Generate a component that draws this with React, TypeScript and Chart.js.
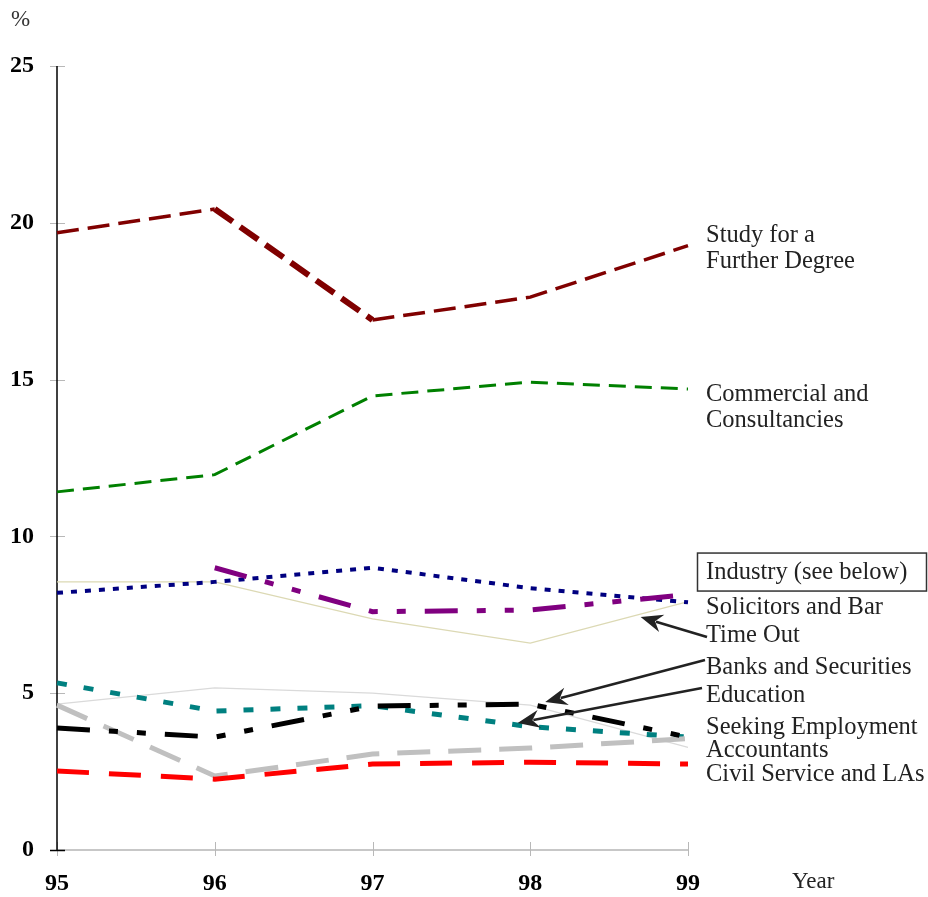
import React, { useEffect, useRef } from 'react';
import { Chart, registerables } from 'chart.js';

Chart.register(...registerables);

// ---- data ----
const categories = ['95', '96', '97', '98', '99'];
const yTicks = [0, 5, 10, 15, 20, 25];

const studyFurtherDegree = [19.68, 20.44, 16.9, 17.63, 19.27];
const commercialConsultancies = [11.42, 11.97, 14.48, 14.92, 14.7];
const industry = [8.2, 8.55, 9.0, 8.35, 7.9];
const solicitorsBar = [null, 9.0, 7.6, 7.65, 8.15];
const timeOut = [8.55, 8.55, 7.37, 6.6, 7.92];
const banksSecurities = [3.89, 3.6, 4.59, 4.65, 3.6];
const education = [5.33, 4.43, 4.6, 3.93, 3.6];
const seekingEmployment = [4.65, 5.17, 5.0, 4.62, 3.27];
const accountants = [4.62, 2.36, 3.06, 3.25, 3.55];
const civilService = [2.52, 2.26, 2.74, 2.8, 2.74];

// annotation texts (placed at value heights on the right)
const labelTexts = [
  'Study for a', 'Further Degree', 'Commercial and', 'Consultancies',
  'Industry (see below)', 'Solicitors and Bar', 'Time Out', 'Banks and Securities',
  'Education', 'Seeking Employment', 'Accountants', 'Civil Service and LAs',
];
const labelValues = [19.39, 18.56, 14.32, 13.49, 8.64, 7.53, 6.63, 5.61, 4.72, 3.7, 2.97, 2.2];
const boxedLabel = 'Industry (see below)';

const arrowLabels = ['Time Out', 'Banks and Securities', 'Education'];
const arrowTipIndex = [3.7, 3.095, 2.92];
const arrowTipValue = [7.43, 4.72, 4.05];

const SERIF = '"Liberation Serif", "DejaVu Serif", serif';

const annotationPlugin = {
  id: 'annotations',
  beforeDatasetsDraw(chart: any) {
    const { ctx, chartArea, scales } = chart;
    const x = scales.x;
    const y = scales.y;
    ctx.save();
    // x axis line
    ctx.strokeStyle = '#b4b4b4';
    ctx.lineWidth = 1.5;
    ctx.beginPath();
    ctx.moveTo(chartArea.left, chartArea.bottom);
    ctx.lineTo(chartArea.right, chartArea.bottom);
    ctx.stroke();
    // x ticks
    ctx.lineWidth = 1;
    ctx.strokeStyle = '#b8b8b8';
    categories.forEach((_, i) => {
      const px = Math.round(x.getPixelForValue(i)) + 0.5;
      ctx.beginPath();
      ctx.moveTo(px, chartArea.bottom - 8);
      ctx.lineTo(px, chartArea.bottom + 6);
      ctx.stroke();
    });
    // y ticks
    yTicks.forEach((v) => {
      const py = Math.round(y.getPixelForValue(v)) + 0.5;
      ctx.strokeStyle = v === 0 ? '#000' : '#b8b8b8';
      ctx.lineWidth = v === 0 ? 1.5 : 1;
      ctx.beginPath();
      ctx.moveTo(chartArea.left - 7, py);
      ctx.lineTo(chartArea.left + 8, py);
      ctx.stroke();
    });
    // y axis line
    ctx.strokeStyle = '#000';
    ctx.lineWidth = 1.5;
    ctx.beginPath();
    ctx.moveTo(chartArea.left, chartArea.top);
    ctx.lineTo(chartArea.left, chartArea.bottom);
    ctx.stroke();
    ctx.restore();
  },
  afterDraw(chart: any) {
    const { ctx, chartArea, scales } = chart;
    const x = scales.x;
    const y = scales.y;
    const textX = chartArea.right + 18;
    ctx.save();
    ctx.fillStyle = '#222';
    ctx.font = `24.5px ${SERIF}`;
    ctx.textAlign = 'left';
    ctx.textBaseline = 'alphabetic';
    labelTexts.forEach((t, i) => {
      const by = y.getPixelForValue(labelValues[i]);
      ctx.fillText(t, textX, by);
      if (t === boxedLabel) {
        ctx.strokeStyle = '#333';
        ctx.lineWidth = 1.5;
        ctx.strokeRect(chartArea.right + 9.5, by - 26, 229, 38);
      }
    });
    // arrows
    const tailDx = [1, -1, -4];
    const tailDy = [-5, -14, -14];
    ctx.strokeStyle = '#222';
    ctx.fillStyle = '#222';
    ctx.lineWidth = 2.6;
    arrowLabels.forEach((lbl, i) => {
      const li = labelTexts.indexOf(lbl);
      const tx = textX + tailDx[i];
      const ty = y.getPixelForValue(labelValues[li]) + tailDy[i];
      const hx = x.getPixelForValue(arrowTipIndex[i]);
      const hy = y.getPixelForValue(arrowTipValue[i]);
      const ang = Math.atan2(hy - ty, hx - tx);
      const L = 22;
      const W = 9;
      const bx = hx - L * Math.cos(ang);
      const by = hy - L * Math.sin(ang);
      ctx.beginPath();
      ctx.moveTo(tx, ty);
      ctx.lineTo(bx + 6 * Math.cos(ang), by + 6 * Math.sin(ang));
      ctx.stroke();
      ctx.beginPath();
      ctx.moveTo(hx, hy);
      ctx.lineTo(bx - W * Math.sin(ang), by + W * Math.cos(ang));
      ctx.lineTo(bx + 7 * Math.cos(ang), by + 7 * Math.sin(ang));
      ctx.lineTo(bx + W * Math.sin(ang), by - W * Math.cos(ang));
      ctx.closePath();
      ctx.fill();
    });
    // axis titles
    ctx.fillStyle = '#333';
    ctx.font = `23px ${SERIF}`;
    ctx.fillText('%', 11, chartArea.top - 40);
    ctx.fillStyle = '#222';
    ctx.font = `23px ${SERIF}`;
    ctx.fillText('Year', chartArea.right + 104, chartArea.bottom + 38);
    ctx.restore();
  },
};

function ds(label: string, data: any[], color: string, width: number, dash: number[], extra: any = {}) {
  return {
    label,
    data,
    borderColor: color,
    backgroundColor: color,
    borderWidth: width,
    borderDash: dash,
    borderCapStyle: 'butt',
    borderJoinStyle: 'miter',
    pointRadius: 0,
    pointHoverRadius: 0,
    tension: 0,
    fill: false,
    spanGaps: false,
    ...extra,
  };
}

export default function App() {
  const ref = useRef<HTMLCanvasElement | null>(null);
  useEffect(() => {
    document.body.style.margin = '0';
    if (!ref.current) return;
    const chart = new Chart(ref.current, {
      type: 'line',
      data: {
        labels: categories,
        datasets: [
          ds('Civil Service and LAs', civilService, '#ff0000', 5, [32, 20]),
          ds('Solicitors and Bar', solicitorsBar, '#800080', 5, [33, 19, 9, 19, 9, 19]),
          ds('Banks and Securities', banksSecurities, '#000000', 5, [33, 19, 9, 19, 9, 19]),
          ds('Accountants', accountants, '#c0c0c0', 5, [33, 18]),
          ds('Education', education, '#008080', 5, [10, 17]),
          ds('Industry', industry, '#000080', 4, [6, 8]),
          ds('Commercial and Consultancies', commercialConsultancies, '#008000', 3, [17, 9]),
          ds('Study for a Further Degree', studyFurtherDegree, '#800000', 3.5, [22, 9], {
            segment: { borderWidth: (c: any) => (c.p0DataIndex === 1 ? 6 : 3.5) },
          }),
          ds('Time Out', timeOut, '#dcd9b4', 1.2, []),
          ds('Seeking Employment', seekingEmployment, '#dadada', 1.2, []),
        ],
      },
      options: {
        responsive: false,
        animation: false,
        layout: { padding: { top: 66, right: 240, left: 0, bottom: 0 } },
        plugins: {
          legend: { display: false },
          tooltip: { enabled: false },
        },
        scales: {
          x: {
            type: 'category',
            offset: false,
            grid: { display: false, drawTicks: false },
            border: { display: false },
            ticks: {
              color: '#000',
              padding: 19,
              maxRotation: 0,
              font: { family: SERIF, size: 24, weight: 'bold' },
            },
            afterFit: (s: any) => { s.height = 47; },
          },
          y: {
            min: 0,
            max: 25,
            grid: { display: false, drawTicks: false },
            border: { display: false },
            afterBuildTicks: (s: any) => { s.ticks = yTicks.map((v) => ({ value: v })); },
            ticks: {
              color: '#000',
              padding: 23,
              font: { family: SERIF, size: 24, weight: 'bold' },
            },
            afterFit: (s: any) => { s.width = 57; },
          },
        },
      },
      plugins: [annotationPlugin],
    } as any);
    return () => chart.destroy();
  }, []);
  return (
    <div style={{ width: 928, height: 897 }}>
      <canvas ref={ref} width={928} height={897} style={{ display: 'block' }} />
    </div>
  );
}
